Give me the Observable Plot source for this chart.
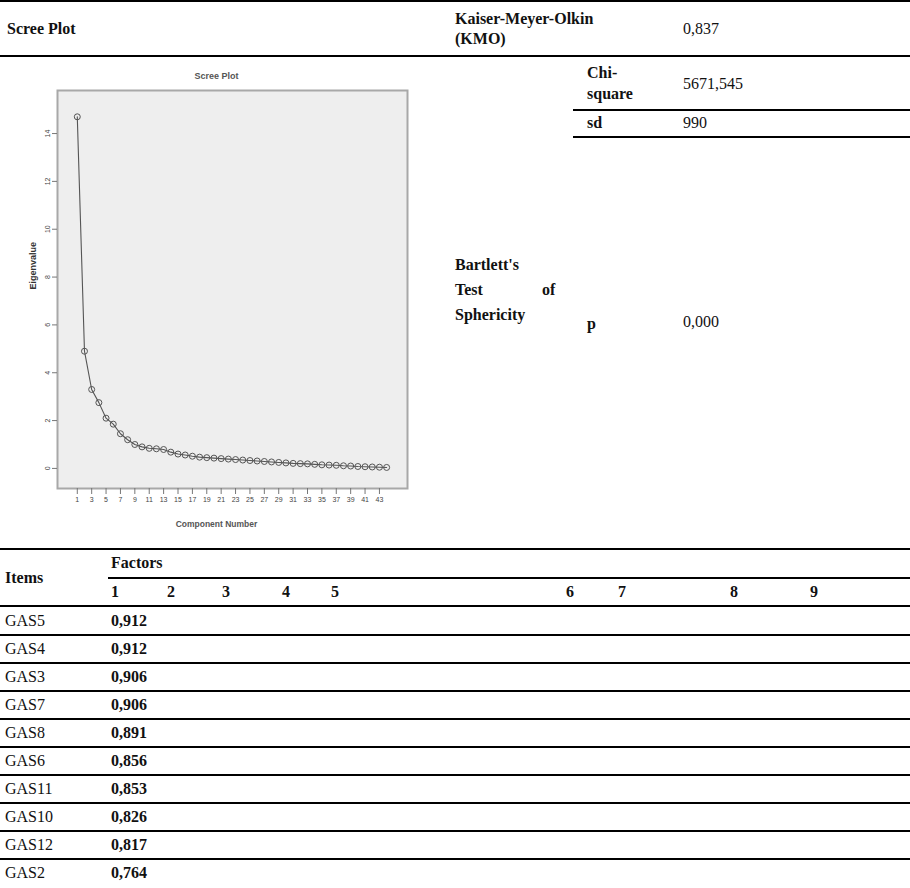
<!DOCTYPE html>
<html><head><meta charset="utf-8">
<script src="https://cdn.jsdelivr.net/npm/d3@7"></script>
<script src="https://cdn.jsdelivr.net/npm/@observablehq/plot@0.6"></script>
<style>
body{margin:0;background:#fff;}
#page{position:relative;width:910px;height:888px;overflow:hidden;font-family:"Liberation Serif","DejaVu Serif",serif;font-size:16px;color:#111;}
.t{position:absolute;white-space:nowrap;line-height:20px;transform:translateY(-50%);}
.b{font-weight:bold;}
.rule{position:absolute;height:2px;background:#000;}
#scree{position:absolute;left:0;top:58px;}
</style>
</head><body><div id="page"><div id="scree"></div></div>
<script>
// ---- data ----
const eigenvalues = [14.7, 4.9, 3.3, 2.75, 2.1, 1.85, 1.45, 1.2, 1.0, 0.9,
  0.84, 0.82, 0.79, 0.68, 0.6, 0.56, 0.51, 0.47, 0.45, 0.43,
  0.41, 0.39, 0.37, 0.35, 0.33, 0.31, 0.29, 0.27, 0.25, 0.23,
  0.21, 0.2, 0.19, 0.17, 0.15, 0.14, 0.13, 0.11, 0.1, 0.08,
  0.07, 0.06, 0.05, 0.04];
const xTicks = [1,3,5,7,9,11,13,15,17,19,21,23,25,27,29,31,33,35,37,39,41,43];
const yTicks = [0,2,4,6,8,10,12,14];
const kmoLabel = ["Kaiser-Meyer-Olkin", "(KMO)"];
const kmoValue = "0,837";
const bartlettLabel = ["Bartlett's", "Test", "of", "Sphericity"];
const bartlettStats = ["Chi-square", "sd", "p"];
const bartlettValues = ["5671,545", "990", "0,000"];
const factorLabels = ["1","2","3","4","5","6","7","8","9"];
const items = ["GAS5","GAS4","GAS3","GAS7","GAS8","GAS6","GAS11","GAS10","GAS12","GAS2"];
const loadings = ["0,912","0,912","0,906","0,906","0,891","0,856","0,853","0,826","0,817","0,764"];

// ---- layout helpers ----
const page = document.getElementById("page");
function txt(s, x, y, bold, extra) {
  const d = document.createElement("div");
  d.className = "t" + (bold ? " b" : "");
  d.textContent = s;
  d.style.left = x + "px"; d.style.top = y + "px";
  if (extra) Object.assign(d.style, extra);
  page.appendChild(d);
}
function rule(x0, x1, y) {
  const d = document.createElement("div");
  d.className = "rule";
  d.style.left = x0 + "px"; d.style.width = (x1 - x0) + "px"; d.style.top = y + "px";
  page.appendChild(d);
}

// top table
rule(0, 910, 0);
txt("Scree Plot", 7, 29, true);
txt(kmoLabel[0], 455, 19, true);
txt(kmoLabel[1], 455, 39, true);
txt(kmoValue, 683, 29, false);
rule(0, 910, 55);
txt("Chi-", 587, 73, true);
txt("square", 587, 94, true);
txt(bartlettValues[0], 683, 84, false);
rule(573, 910, 109);
txt(bartlettStats[1], 587, 123, true);
txt(bartlettValues[1], 683, 123, false);
rule(573, 910, 136);
txt(bartlettLabel[0], 455, 265, true);
txt(bartlettLabel[1], 455, 290, true);
txt(bartlettLabel[2], 542, 290, true);
txt(bartlettLabel[3], 455, 315, true);
txt(bartlettStats[2], 587, 324, true);
txt(bartlettValues[2], 683, 322, false);

// loadings table
rule(0, 910, 548);
txt("Items", 5, 578, true);
txt("Factors", 111, 563, true);
rule(108, 910, 577);
const factorX = [111, 167, 222, 282, 331, 566, 618, 730, 810];
factorLabels.forEach((f, i) => txt(f, factorX[i], 592, true));
rule(0, 910, 605);
items.forEach((it, i) => {
  const cy = 621 + 28 * i;
  txt(it, 5, cy, false);
  txt(loadings[i], 111, cy, true);
  if (i < items.length - 1) rule(0, 910, 634 + 28 * i);
});

// ---- scree plot ----
const data = eigenvalues.map((v, i) => ({component: i + 1, eigenvalue: v}));
const sans = "'Liberation Sans Narrow','Liberation Sans',Arial,sans-serif";
const chart = Plot.plot({
  width: 440, height: 482,
  marginLeft: 57, marginRight: 33, marginTop: 32, marginBottom: 52,
  x: {domain: [-1.75, 46.9]},
  y: {domain: [-0.84, 15.8]},
  style: {fontFamily: sans, fontSize: "7px", color: "#444", background: "transparent", overflow: "visible"},
  marks: [
    Plot.frame({fill: "#eeeeee", stroke: "#a8a8a8", strokeWidth: 2}),
    Plot.axisX({ticks: xTicks, tickSize: 6, tickPadding: 3, label: null, tickFormat: d => String(d), stroke: "#777"}),
    Plot.axisY({ticks: yTicks, tickSize: 5, tickPadding: 3, tickRotate: -90, label: null, tickFormat: d => String(d), stroke: "#777"}),
    Plot.line(data, {x: "component", y: "eigenvalue", stroke: "#555", strokeWidth: 1.1}),
    Plot.dot(data, {x: "component", y: "eigenvalue", r: 3, stroke: "#555", fill: "none", strokeWidth: 1}),
    Plot.text(["Scree Plot"], {text: d => d, frameAnchor: "top", dy: -18, dx: -16, fontSize: 9, fontWeight: "bold", fill: "#555"}),
    Plot.text(["Component Number"], {text: d => d, frameAnchor: "bottom", dy: 38, dx: -16, fontSize: 8.5, fontWeight: "bold", fill: "#555"}),
    Plot.text(["Eigenvalue"], {text: d => d, frameAnchor: "left", dx: -24, rotate: -90, fontSize: 9, fontWeight: "bold", fill: "#333"})
  ]
});
document.getElementById("scree").appendChild(chart);
</script>
</body></html>
